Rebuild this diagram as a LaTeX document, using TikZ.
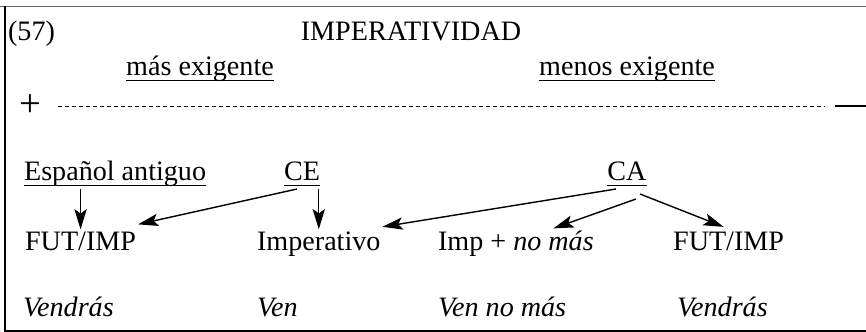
\documentclass[tikz,border=0pt]{standalone}
\usepackage{fontspec}
\setmainfont{Liberation Serif}
\usetikzlibrary{arrows.meta, calc}

% underline at a fixed depth, same for every head word
\newcommand{\undl}[1]{\underline{\raisebox{0pt}[\height][0.12em]{#1}}}

\begin{document}
\begin{tikzpicture}[
    lbl/.style={inner sep=1pt, anchor=base west, font=\fontsize{16}{19}\selectfont},
    head/.style={lbl, anchor=base},
    arr/.style={-{Stealth[length=11.5pt, width=7pt, inset=2.5pt]}, line width=0.8pt},
    dashline/.style={line width=0.5pt, dash pattern=on 2.3pt off 1.7pt}
]

\useasboundingbox (0,0) rectangle (17.32,-6.64);

% --- Grid Coordinates ---
% Columns (left edges of the text)
\def\cO{0.46}   % Espanol antiguo / FUT/IMP
\def\cI{5.10}   % Imperativo
\def\cII{8.72}  % Imp + no mas
\def\cIII{13.42} % FUT/IMP (right)

% Rows (baselines)
\def\rO{-0.80}  % title
\def\rI{-1.50}  % mas / menos exigente
\def\rII{-2.26} % scale
\def\rIII{-3.60} % sources
\def\rIV{-5.00} % forms
\def\rV{-6.32}  % examples

% --- Frame ---
\draw[line width=1.1pt, black!60] (0,-0.13) -- (17.32,-0.13);
\draw[line width=0.7pt] (0.10,-0.12) -- (0.10,-6.62) -- (17.32,-6.62);

% --- Title Row ---
\node[lbl] (num)   at (0.12, \rO) {(57)};
\node[head] (title) at (8.22, \rO) {IMPERATIVIDAD};

% --- Scale ---
\node[head] (mas)   at (4.00, \rI)  {\undl{más exigente}};
\node[head] (menos) at (12.54, \rI) {\undl{menos exigente}};
\node[lbl, anchor=center, font=\fontsize{22}{26}\selectfont] (plus) at (0.61, -2.12) {+};
\coordinate (minus) at (16.70, -2.12);
\coordinate (minusend) at (17.40, -2.12);
\draw[dashline] ([xshift=0.28cm]plus.east |- minus) -- ([xshift=-0.2cm]minus);
\draw[line width=0.055cm] (minus) -- (minusend);

% --- Sources ---
\node[lbl]  (esp) at (0.44, \rIII)  {\undl{Español antiguo}};
\node[head] (ce)  at (6.04, \rIII)  {\undl{CE}};
\node[head] (ca)  at (12.54, \rIII) {\undl{CA}};

% --- Forms ---
\node[lbl] (fut1)  at (\cO, \rIV)   {FUT/IMP};
\node[lbl] (imper) at (\cI, \rIV)   {Imperativo};
\node[lbl] (impno) at (\cII, \rIV)  {Imp + \textit{no más}};
\node[lbl] (fut2)  at (\cIII, \rIV) {FUT/IMP};

% --- Examples ---
\node[lbl] (exO)   at (0.42, \rV)  {\textit{Vendrás}};
\node[lbl] (exI)   at (\cI, \rV)   {\textit{Ven}};
\node[lbl] (exII)  at (\cII, \rV)  {\textit{Ven no más}};
\node[lbl] (exIII) at (13.50, \rV) {\textit{Vendrás}};

% --- Arrows ---
\draw[arr] (fut1 |- esp.south) -- (fut1.north);
\draw[arr] ([xshift=-0.1cm]ce.south) -- ([yshift=0.1cm]fut1.north east);
\draw[arr] (imper.north |- ce.south) -- (imper.north);

% CA distribution
\draw[arr] ([xshift=-0.22cm]ca.south) -- ([yshift=0.05cm]imper.north east);
\draw[arr] ([xshift=0.18cm, yshift=-0.2cm]ca.south) -- ([xshift=0.75cm]impno.north);
\draw[arr] ([xshift=0.26cm, yshift=-0.1cm]ca.south) -- ([xshift=-0.1cm, yshift=0.05cm]fut2.north);

\end{tikzpicture}
\end{document}
